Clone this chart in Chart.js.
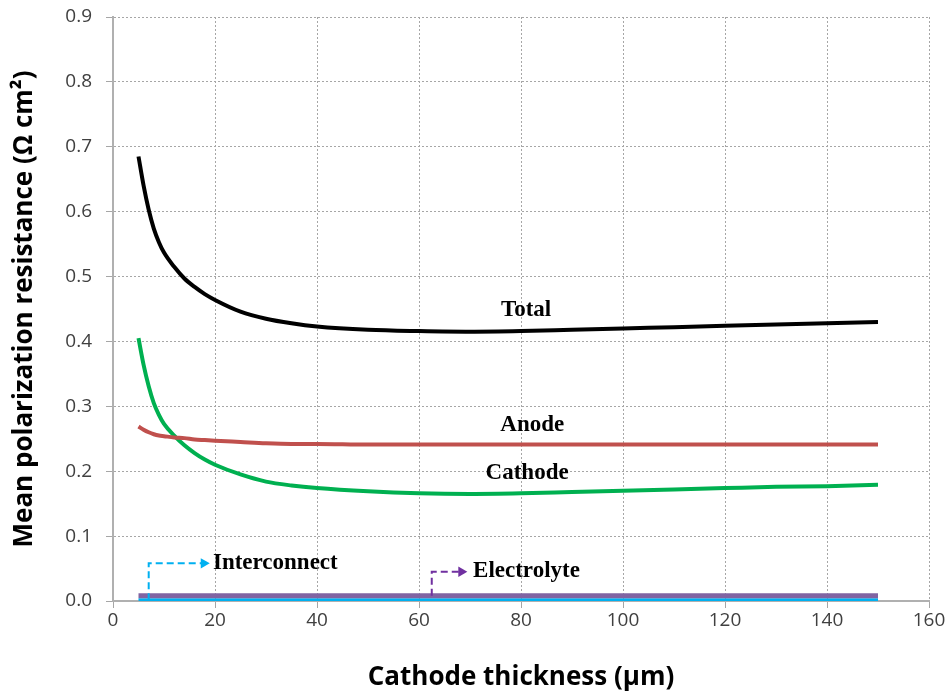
<!DOCTYPE html>
<html>
<head>
<meta charset="utf-8">
<script src="https://cdn.jsdelivr.net/npm/chart.js@4/dist/chart.umd.min.js"></script>
<style>
  html, body { margin: 0; padding: 0; background: #fff; }
  #wrap { width: 950px; height: 696px; }
</style>
</head>
<body>
<div id="wrap"><canvas id="graphic-1" width="950" height="696"></canvas></div>
<script>
// cathode thickness (um)
const thickness = [5, 6, 7, 8, 9, 10, 12, 14, 16, 18, 20, 25, 30, 35, 40, 50, 60, 70, 80, 90, 100, 110, 120, 130, 140, 150];

// mean polarization resistance (ohm cm2)
const total        = [0.685, 0.640, 0.603, 0.574, 0.553, 0.537, 0.515, 0.497, 0.484, 0.473, 0.464, 0.446, 0.435, 0.428, 0.423, 0.418, 0.416, 0.415, 0.416, 0.418, 0.420, 0.422, 0.424, 0.426, 0.428, 0.430];
const anode        = [0.269, 0.264, 0.260, 0.257, 0.255, 0.254, 0.252, 0.251, 0.249, 0.248, 0.247, 0.245, 0.243, 0.242, 0.242, 0.241, 0.241, 0.241, 0.241, 0.241, 0.241, 0.241, 0.241, 0.241, 0.241, 0.241];
const cathode      = [0.405, 0.364, 0.331, 0.305, 0.287, 0.273, 0.255, 0.240, 0.228, 0.218, 0.210, 0.195, 0.184, 0.178, 0.174, 0.169, 0.166, 0.165, 0.166, 0.168, 0.170, 0.172, 0.174, 0.176, 0.177, 0.179];
const electrolyte  = [0.008, 0.008, 0.008, 0.008, 0.008, 0.008, 0.008, 0.008, 0.008, 0.008, 0.008, 0.008, 0.008, 0.008, 0.008, 0.008, 0.008, 0.008, 0.008, 0.008, 0.008, 0.008, 0.008, 0.008, 0.008, 0.008];
const interconnect = [0.001, 0.001, 0.001, 0.001, 0.001, 0.001, 0.001, 0.001, 0.001, 0.001, 0.001, 0.001, 0.001, 0.001, 0.001, 0.001, 0.001, 0.001, 0.001, 0.001, 0.001, 0.001, 0.001, 0.001, 0.001, 0.001];

// callout arrows (elbow: up, then right)
const interconnectArrow = [{ x: 7, y: 0.001 }, { x: 7, y: 0.058 }, { x: 17.8, y: 0.058 }];
const electrolyteArrow  = [{ x: 62.5, y: 0.008 }, { x: 62.5, y: 0.045 }, { x: 68.3, y: 0.045 }];

// curve names written on the plot
const curveLabels = [
  { text: 'Total',        x: 81,   y: 0.448, align: 'center' },
  { text: 'Anode',        x: 82.2, y: 0.271, align: 'center' },
  { text: 'Cathode',      x: 81.2, y: 0.197, align: 'center' },
  { text: 'Interconnect', x: 19.6, y: 0.059, align: 'left' },
  { text: 'Electrolyte',  x: 70.6, y: 0.046, align: 'left' }
];

const xTicks = [0, 20, 40, 60, 80, 100, 120, 140, 160];

const pts = (ys) => thickness.map((t, i) => ({ x: t, y: ys[i] }));

function lineSet(ys, color, width) {
  return {
    data: pts(ys),
    borderColor: color,
    borderWidth: width,
    pointRadius: 0,
    cubicInterpolationMode: 'monotone',
    fill: false
  };
}

function arrowSet(path, color) {
  return {
    data: path,
    borderColor: color,
    backgroundColor: color,
    borderWidth: 2,
    borderDash: [7, 4],
    pointRadius: [0, 0, 6],
    pointStyle: 'triangle',
    rotation: 90,
    pointBorderWidth: 0,
    tension: 0
  };
}

// writes the curve names in data coordinates
const curveText = {
  id: 'curveText',
  afterDatasetsDraw(chart) {
    const { ctx, scales } = chart;
    ctx.save();
    ctx.font = 'bold 23px "Liberation Serif", "Times New Roman", serif';
    ctx.fillStyle = '#000';
    ctx.textBaseline = 'middle';
    curveLabels.forEach(l => {
      ctx.textAlign = l.align;
      ctx.fillText(l.text, scales.x.getPixelForValue(l.x), scales.y.getPixelForValue(l.y));
    });
    ctx.restore();
  }
};

const ctx = document.getElementById('graphic-1').getContext('2d');

new Chart(ctx, {
  type: 'line',
  data: {
    datasets: [
      arrowSet(interconnectArrow, '#00b0f0'),
      arrowSet(electrolyteArrow, '#7030a0'),
      lineSet(total, '#000000', 4),
      lineSet(anode, '#c0504d', 4),
      lineSet(cathode, '#00b050', 4),
      lineSet(electrolyte, '#8064a2', 5),
      lineSet(interconnect, '#00b0f0', 4)
    ]
  },
  options: {
    responsive: false,
    animation: false,
    layout: { padding: { top: 17, right: 21, left: 0, bottom: 0 } },
    plugins: {
      legend: { display: false },
      tooltip: { enabled: false }
    },
    scales: {
      x: {
        type: 'linear',
        min: 0,
        max: 160,
        afterFit(scale) { scale.height = 95; },
        afterBuildTicks(scale) { scale.ticks = xTicks.map(v => ({ value: v })); },
        ticks: {
          color: '#404040',
          font: { family: '"Open Sans", sans-serif', size: 19 },
          padding: 1,
          maxRotation: 0
        },
        grid: { color: '#a6a6a6', lineWidth: 1, tickLength: 7, tickColor: '#a6a6a6' },
        border: { color: '#b0b0b0', width: 2, dash: [2, 2] },
        title: {
          display: true,
          text: 'Cathode thickness (μm)',
          color: '#000',
          font: { family: '"Open Sans", sans-serif', size: 26, weight: 'bold' },
          padding: { top: 0, bottom: 3 }
        }
      },
      y: {
        min: 0,
        max: 0.9,
        afterFit(scale) {
          scale.width = 113;
          // keep the plot top on the layout padding, not on the label padding
          scale.paddingTop = 0;
        },
        ticks: {
          stepSize: 0.1,
          color: '#404040',
          font: { family: '"Open Sans", sans-serif', size: 19 },
          padding: 14,
          callback: (v) => v.toFixed(1)
        },
        grid: { color: '#a6a6a6', lineWidth: 1, tickLength: 7, tickColor: '#a6a6a6' },
        border: { color: '#b0b0b0', width: 2, dash: [2, 2] },
        title: {
          display: true,
          text: 'Mean polarization resistance (Ω cm²)',
          color: '#000',
          font: { family: '"Open Sans", sans-serif', size: 26, weight: 'bold' },
          padding: { top: 9, bottom: 0 }
        }
      }
    }
  },
  plugins: [curveText]
});
</script>
</body>
</html>
